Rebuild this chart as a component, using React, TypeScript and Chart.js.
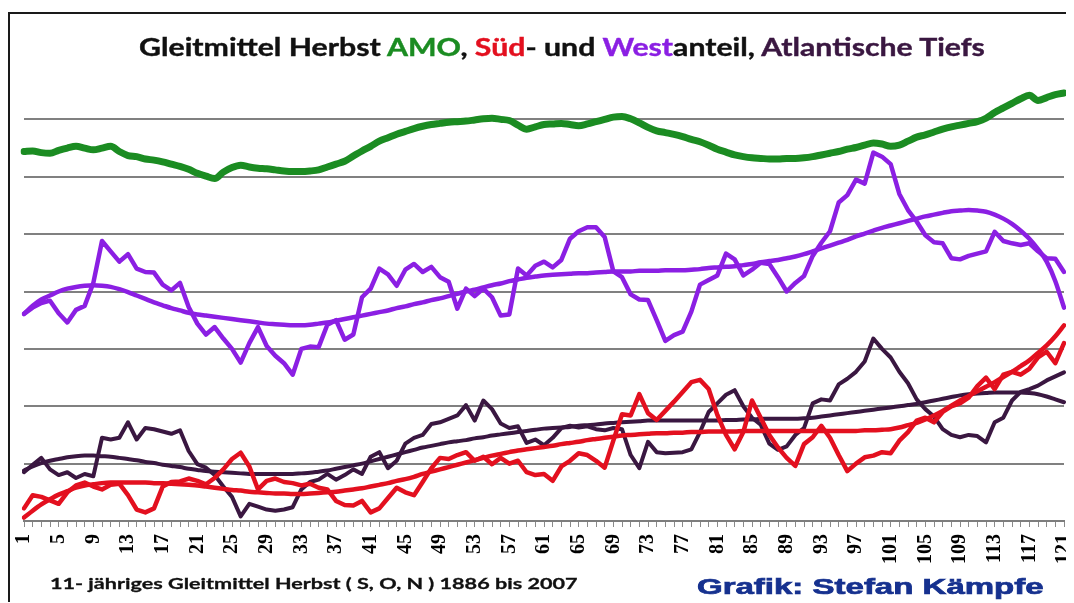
import React, { useEffect, useRef } from 'react';
import { Chart, registerables } from 'chart.js';

Chart.register(...registerables);

// Categories: running year index 1..121 (1886 .. 2007, 11-year moving average)
const categories: string[] = Array.from({ length: 121 }, (_, i) => String(i + 1));
const tickLabels = ['1', '5', '9', '13', '17', '21', '25', '29', '33', '37', '41', '45', '49', '53', '57', '61', '65', '69', '73', '77', '81', '85', '89', '93', '97', '101', '105', '109', '113', '117', '121'];

// AMO (green)
const amo = [
  6.44, 6.45, 6.42, 6.41, 6.46, 6.50, 6.53, 6.50, 6.47, 6.50,
  6.53, 6.44, 6.37, 6.35, 6.31, 6.29, 6.26, 6.22, 6.18, 6.13,
  6.06, 6.01, 5.97, 6.08, 6.16, 6.20, 6.17, 6.15, 6.14, 6.12,
  6.10, 6.09, 6.09, 6.10, 6.12, 6.17, 6.22, 6.27, 6.36, 6.45,
  6.53, 6.62, 6.68, 6.74, 6.79, 6.84, 6.88, 6.91, 6.93, 6.95,
  6.96, 6.97, 6.99, 7.01, 7.02, 7.00, 6.98, 6.90, 6.83, 6.87,
  6.91, 6.92, 6.93, 6.91, 6.89, 6.92, 6.96, 7.00, 7.04, 7.05,
  7.01, 6.94, 6.86, 6.80, 6.77, 6.74, 6.70, 6.65, 6.61, 6.55,
  6.48, 6.43, 6.38, 6.35, 6.33, 6.32, 6.31, 6.31, 6.32, 6.32,
  6.33, 6.35, 6.38, 6.41, 6.44, 6.48, 6.51, 6.55, 6.59, 6.57,
  6.53, 6.55, 6.62, 6.69, 6.73, 6.78, 6.83, 6.87, 6.90, 6.93,
  6.96, 7.02, 7.12, 7.20, 7.28, 7.36, 7.42, 7.33, 7.38, 7.43,
  7.46,
];

// Westanteil (purple), moving average
const westAvg = [
  3.61, 3.72, 3.80, 3.84, 3.62, 3.46, 3.68, 3.75, 4.15, 4.88,
  4.70, 4.52, 4.65, 4.40, 4.34, 4.33, 4.12, 4.02, 4.15, 3.73,
  3.44, 3.25, 3.38, 3.18, 3.00, 2.76, 3.10, 3.38, 3.05, 2.88,
  2.75, 2.55, 3.00, 3.04, 3.03, 3.42, 3.50, 3.16, 3.25, 3.90,
  4.05, 4.40, 4.30, 4.10, 4.38, 4.48, 4.34, 4.43, 4.25, 4.17,
  3.70, 4.05, 3.92, 4.05, 3.90, 3.58, 3.60, 4.40, 4.28, 4.45,
  4.52, 4.42, 4.55, 4.92, 5.05, 5.12, 5.12, 4.95, 4.35, 4.25,
  3.95, 3.86, 3.85, 3.50, 3.14, 3.24, 3.30, 3.65, 4.12, 4.20,
  4.28, 4.66, 4.56, 4.28, 4.38, 4.50, 4.48, 4.25, 4.00, 4.15,
  4.27, 4.62, 4.85, 5.05, 5.55, 5.68, 5.95, 5.88, 6.42, 6.35,
  6.22, 5.70, 5.42, 5.22, 4.98, 4.86, 4.84, 4.58, 4.56, 4.62,
  4.66, 4.70, 5.04, 4.88, 4.84, 4.81, 4.84, 4.70, 4.58, 4.57,
  4.34,
];

// Westanteil trend
const westTrend = [
  3.61, 3.75, 3.86, 3.93, 4.00, 4.05, 4.08, 4.10, 4.11, 4.10,
  4.08, 4.04, 3.99, 3.93, 3.87, 3.81, 3.76, 3.71, 3.67, 3.63,
  3.60, 3.58, 3.56, 3.54, 3.52, 3.50, 3.48, 3.46, 3.44, 3.43,
  3.42, 3.41, 3.41, 3.42, 3.44, 3.46, 3.49, 3.52, 3.55, 3.58,
  3.61, 3.64, 3.67, 3.71, 3.74, 3.78, 3.81, 3.85, 3.88, 3.92,
  3.96, 4.00, 4.03, 4.07, 4.11, 4.14, 4.18, 4.21, 4.24, 4.26,
  4.28, 4.29, 4.30, 4.31, 4.32, 4.32, 4.33, 4.34, 4.35, 4.35,
  4.35, 4.36, 4.36, 4.36, 4.37, 4.37, 4.37, 4.38, 4.39, 4.41,
  4.42, 4.43, 4.44, 4.46, 4.48, 4.51, 4.53, 4.55, 4.58, 4.61,
  4.65, 4.70, 4.75, 4.80, 4.85, 4.90, 4.96, 5.01, 5.06, 5.11,
  5.15, 5.19, 5.23, 5.27, 5.31, 5.34, 5.37, 5.40, 5.41, 5.42,
  5.41, 5.39, 5.34, 5.27, 5.18, 5.06, 4.92, 4.74, 4.52, 4.18,
  3.72,
];

// Südanteil (red), moving average
const suedAvg = [
  0.22, 0.45, 0.42, 0.36, 0.30, 0.50, 0.62, 0.67, 0.60, 0.55,
  0.63, 0.65, 0.45, 0.20, 0.15, 0.22, 0.60, 0.68, 0.69, 0.74,
  0.70, 0.64, 0.75, 0.90, 1.08, 1.19, 0.95, 0.55, 0.70, 0.74,
  0.68, 0.66, 0.62, 0.65, 0.58, 0.55, 0.35, 0.28, 0.27, 0.35,
  0.15, 0.22, 0.40, 0.58, 0.50, 0.45, 0.68, 0.92, 1.10, 1.08,
  1.15, 1.20, 1.05, 1.12, 0.99, 1.10, 1.00, 1.05, 0.85, 0.80,
  0.82, 0.70, 0.95, 1.05, 1.18, 1.15, 1.05, 0.93, 1.40, 1.86,
  1.84, 2.21, 1.88, 1.76, 1.92, 2.08, 2.25, 2.42, 2.46, 2.30,
  1.85, 1.50, 1.25, 1.55, 2.10, 1.80, 1.50, 1.28, 1.10, 0.96,
  1.34, 1.46, 1.66, 1.45, 1.15, 0.87, 1.00, 1.11, 1.14, 1.20,
  1.18, 1.40, 1.55, 1.75, 1.80, 1.72, 1.90, 2.00, 2.05, 2.15,
  2.35, 2.50, 2.30, 2.55, 2.60, 2.55, 2.65, 2.85, 2.95, 2.75,
  3.10,
];

// Südanteil trend
const suedTrend = [
  0.06, 0.18, 0.29, 0.38, 0.46, 0.52, 0.58, 0.62, 0.64, 0.66,
  0.67, 0.67, 0.67, 0.67, 0.67, 0.66, 0.66, 0.65, 0.64, 0.63,
  0.62, 0.60, 0.58, 0.56, 0.54, 0.53, 0.51, 0.50, 0.49, 0.48,
  0.48, 0.47, 0.47, 0.48, 0.49, 0.50, 0.51, 0.53, 0.55, 0.57,
  0.60, 0.63, 0.66, 0.70, 0.73, 0.77, 0.82, 0.86, 0.90, 0.94,
  0.98, 1.02, 1.06, 1.10, 1.14, 1.17, 1.20, 1.23, 1.25, 1.27,
  1.29, 1.31, 1.34, 1.36, 1.38, 1.41, 1.43, 1.45, 1.47, 1.49,
  1.50, 1.51, 1.52, 1.53, 1.53, 1.54, 1.54, 1.55, 1.55, 1.56,
  1.56, 1.56, 1.56, 1.57, 1.57, 1.57, 1.57, 1.57, 1.57, 1.57,
  1.57, 1.57, 1.57, 1.57, 1.57, 1.57, 1.57, 1.58, 1.58, 1.59,
  1.60, 1.63, 1.67, 1.71, 1.77, 1.84, 1.92, 2.01, 2.10, 2.18,
  2.26, 2.34, 2.42, 2.51, 2.60, 2.70, 2.80, 2.93, 3.06, 3.22,
  3.41,
];

// Atlantische Tiefs (dark purple), moving average
const tiefsAvg = [
  0.85, 0.98, 1.10, 0.90, 0.80, 0.85, 0.75, 0.82, 0.78, 1.45,
  1.42, 1.45, 1.72, 1.42, 1.62, 1.60, 1.56, 1.52, 1.58, 1.22,
  0.99, 0.93, 0.80, 0.60, 0.42, 0.08, 0.30, 0.25, 0.20, 0.18,
  0.20, 0.24, 0.55, 0.68, 0.72, 0.82, 0.72, 0.80, 0.90, 0.82,
  1.12, 1.20, 0.92, 1.05, 1.35, 1.45, 1.50, 1.69, 1.72, 1.78,
  1.84, 2.02, 1.75, 2.10, 1.95, 1.70, 1.62, 1.65, 1.36, 1.42,
  1.32, 1.45, 1.62, 1.66, 1.63, 1.65, 1.60, 1.58, 1.62, 1.60,
  1.15, 0.92, 1.38, 1.20, 1.18, 1.19, 1.20, 1.25, 1.55, 1.90,
  2.05, 2.20, 2.28, 2.00, 1.80, 1.68, 1.35, 1.24, 1.30, 1.50,
  1.62, 2.05, 2.12, 2.10, 2.38, 2.48, 2.60, 2.78, 3.18, 3.00,
  2.85, 2.60, 2.40, 2.12, 1.95, 1.82, 1.60, 1.50, 1.46, 1.50,
  1.48, 1.37, 1.72, 1.80, 2.10, 2.25, 2.30, 2.36, 2.45, 2.52,
  2.59,
];

// Atlantische Tiefs trend
const tiefsTrend = [
  0.88, 0.95, 1.01, 1.05, 1.08, 1.11, 1.13, 1.14, 1.14, 1.13,
  1.12, 1.10, 1.08, 1.06, 1.03, 1.01, 0.98, 0.96, 0.94, 0.91,
  0.89, 0.87, 0.86, 0.85, 0.84, 0.83, 0.82, 0.82, 0.82, 0.82,
  0.82, 0.82, 0.83, 0.84, 0.86, 0.88, 0.91, 0.94, 0.97, 1.00,
  1.04, 1.08, 1.12, 1.16, 1.20, 1.24, 1.28, 1.31, 1.34, 1.37,
  1.39, 1.41, 1.44, 1.46, 1.49, 1.51, 1.53, 1.55, 1.57, 1.59,
  1.61, 1.62, 1.63, 1.64, 1.66, 1.67, 1.68, 1.70, 1.71, 1.72,
  1.73, 1.74, 1.75, 1.75, 1.75, 1.75, 1.75, 1.75, 1.75, 1.75,
  1.75, 1.76, 1.76, 1.77, 1.77, 1.78, 1.78, 1.78, 1.78, 1.78,
  1.79, 1.80, 1.82, 1.84, 1.86, 1.88, 1.90, 1.92, 1.94, 1.96,
  1.98, 2.00, 2.02, 2.04, 2.07, 2.10, 2.13, 2.16, 2.19, 2.21,
  2.22, 2.23, 2.24, 2.24, 2.24, 2.24, 2.23, 2.21, 2.17, 2.12,
  2.07,
];

const GREEN = '#1b8c22';
const PURPLE = '#8b1fe3';
const RED = '#e3101f';
const DARK = '#3a1741';

const CANVAS_W = 1064;
const CANVAS_H = 588;

export default function App() {
  const canvasRef = useRef<HTMLCanvasElement | null>(null);

  useEffect(() => {
    if (!canvasRef.current) return;
    const line = (data: number[], color: string, width: number, smooth: boolean) => ({
      data,
      borderColor: color,
      backgroundColor: color,
      borderWidth: width,
      pointRadius: 0,
      pointHoverRadius: 0,
      fill: false,
      tension: 0,
      cubicInterpolationMode: smooth ? ('monotone' as const) : ('default' as const),
      borderJoinStyle: 'round' as const,
      borderCapStyle: 'round' as const,
    });
    const chart = new Chart(canvasRef.current, {
      type: 'line',
      data: {
        labels: categories,
        datasets: [
          { label: 'AMO', ...line(amo, GREEN, 7, true) },
          { label: 'Westanteil', ...line(westAvg, PURPLE, 4.5, false) },
          { label: 'Westanteil Trend', ...line(westTrend, PURPLE, 4.5, true) },
          { label: 'Südanteil', ...line(suedAvg, RED, 4.5, false) },
          { label: 'Südanteil Trend', ...line(suedTrend, RED, 4.5, true) },
          { label: 'Atlantische Tiefs', ...line(tiefsAvg, DARK, 4, false) },
          { label: 'Atlantische Tiefs Trend', ...line(tiefsTrend, DARK, 4, true) },
        ],
      },
      options: {
        responsive: false,
        animation: false,
        events: [],
        layout: { padding: { left: 14, right: 10, top: 48, bottom: 0 } },
        plugins: {
          legend: { display: false },
          tooltip: { enabled: false },
          title: { display: false },
        },
        scales: {
          x: {
            type: 'category',
            offset: false,
            border: { display: true, color: '#7d7d7d', width: 2 },
            grid: {
              drawOnChartArea: false,
              drawTicks: true,
              tickLength: 6,
              color: '#8a8a8a',
              lineWidth: 1,
            },
            ticks: {
              autoSkip: false,
              maxRotation: 90,
              minRotation: 90,
              padding: 7,
              color: '#000',
              font: { family: '"Liberation Serif", "DejaVu Serif", serif', size: 20, weight: 'bold' },
              callback: (_v: any, idx: number) => (tickLabels.includes(categories[idx]) ? categories[idx] : ''),
            },
            afterFit: (scale: any) => {
              scale.height = 81;
              scale.paddingLeft = 0;
              scale.paddingRight = 0;
            },
          },
          y: {
            min: 0,
            max: 8,
            border: { display: false },
            grid: {
              drawTicks: false,
              lineWidth: 2,
              color: (ctx: any) => (ctx.tick && (ctx.tick.value === 0 || ctx.tick.value === 8) ? 'rgba(0,0,0,0)' : '#808080'),
            },
            ticks: { display: false, stepSize: 1 },
            afterFit: (scale: any) => {
              scale.width = 0;
            },
          },
        },
      },
    });
    return () => chart.destroy();
  }, []);

  const titleFont = 'Lato, "Open Sans", sans-serif';

  return (
    <div
      style={{
        position: 'relative',
        marginTop: 4,
        width: 1066,
        height: 590,
        boxSizing: 'border-box',
        borderTop: '2px solid #1a1a1a',
        borderLeft: '2px solid #1a1a1a',
        background: '#fff',
        overflow: 'hidden',
      }}
    >
      <canvas
        ref={canvasRef}
        width={CANVAS_W}
        height={CANVAS_H}
        style={{ position: 'absolute', left: 0, top: 0, width: CANVAS_W, height: CANVAS_H }}
      />
      <div
        style={{
          position: 'absolute',
          left: 552,
          top: 19,
          transform: 'translateX(-50%) scaleX(1.26)',
          whiteSpace: 'nowrap',
          fontFamily: titleFont,
          fontWeight: 700,
          fontSize: 24,
          lineHeight: '28px',
          color: '#111',
          WebkitTextStroke: '0.4px currentColor',
        }}
      >
        Gleitmittel Herbst <span style={{ color: GREEN }}>AMO</span>, <span style={{ color: RED }}>Süd</span>- und{' '}
        <span style={{ color: PURPLE }}>West</span>anteil, <span style={{ color: DARK }}>Atlantische Tiefs</span>
      </div>
      <div
        style={{
          position: 'absolute',
          left: 40,
          top: 559,
          transformOrigin: 'left center',
          transform: 'scaleX(1.35)',
          whiteSpace: 'nowrap',
          fontFamily: titleFont,
          fontWeight: 700,
          fontSize: 16,
          lineHeight: '20px',
          color: '#111',
          WebkitTextStroke: '0.3px #111',
        }}
      >
        11- jähriges Gleitmittel Herbst ( S, O, N ) 1886 bis 2007
      </div>
      <div
        style={{
          position: 'absolute',
          left: 687,
          top: 560,
          transformOrigin: 'left center',
          transform: 'scaleX(1.5)',
          whiteSpace: 'nowrap',
          fontFamily: '"Liberation Sans", Arial, sans-serif',
          fontWeight: 700,
          fontSize: 22,
          lineHeight: '26px',
          color: '#16318f',
          WebkitTextStroke: '0.7px #16318f',
        }}
      >
        Grafik: Stefan Kämpfe
      </div>
    </div>
  );
}
